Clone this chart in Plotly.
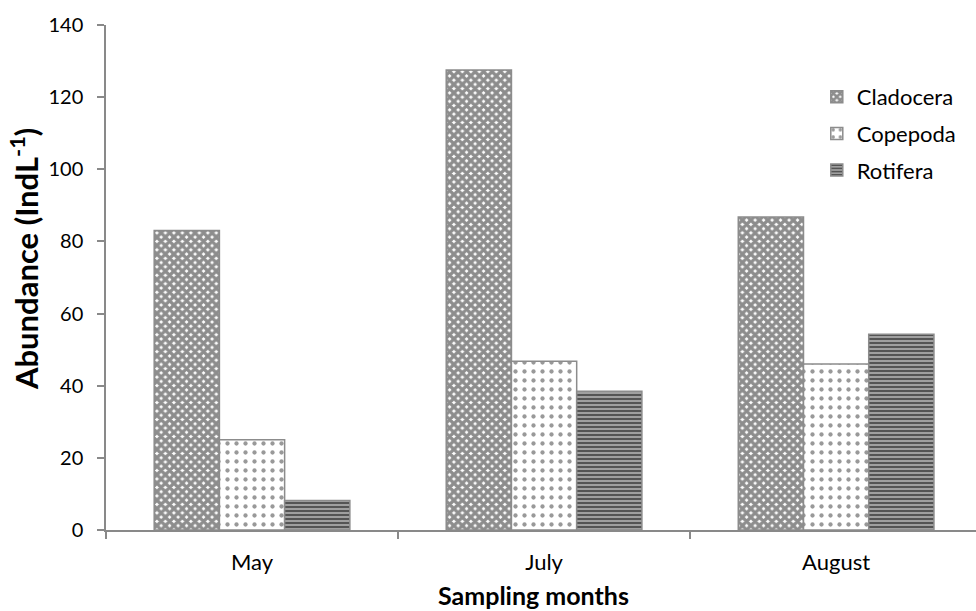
import plotly.graph_objects as go

months = ["May", "July", "August"]
cladocera = [83.0, 127.5, 86.8]
copepoda = [25.0, 46.8, 46.0]
rotifera = [8.2, 38.5, 54.3]

FONT = "Lato, 'Open Sans', sans-serif"
AXIS_GRAY = "#898989"
EDGE = "#8c8c8c"

series = [
    ("Cladocera", cladocera, dict(shape="x", size=6, solidity=0.8, fgcolor="#1c1c1c", bgcolor="white")),
    ("Copepoda", copepoda, dict(shape=".", size=9, solidity=0.18, fgcolor="#333333", bgcolor="white")),
    ("Rotifera", rotifera, dict(shape="-", size=4, solidity=0.55, fgcolor="#000000", bgcolor="#a8a8a8")),
]

fig = go.Figure()
for name, vals, pat in series:
    fig.add_trace(go.Bar(
        x=months, y=vals, name=name, legendgroup=name,
        marker=dict(color="white", pattern=pat, line=dict(color=EDGE, width=1.5)),
    ))

# axis titles drawn as annotations so they can be placed freely
fig.add_annotation(
    text="<b>Abundance (IndL<sup>-1</sup>)</b>",
    xref="paper", yref="paper", x=-0.0935, y=0.536,
    xanchor="center", yanchor="middle", textangle=-90,
    showarrow=False, font=dict(size=31, family=FONT, color="#000000"),
)
fig.add_annotation(
    text="<b>Sampling months</b>",
    xref="paper", yref="paper", x=0.491, y=-0.1287,
    xanchor="center", yanchor="middle",
    showarrow=False, font=dict(size=25, family=FONT, color="#000000"),
)

fig.update_layout(
    width=976, height=611,
    margin=dict(l=106, r=0, t=25, b=81),
    paper_bgcolor="white", plot_bgcolor="white",
    barmode="group", bargap=0.33, bargroupgap=0,
    font=dict(family=FONT, size=18, color="#000000"),
    legend=dict(
        x=0.817, y=0.899, xanchor="left", yanchor="top",
        bgcolor="rgba(0,0,0,0)", font=dict(size=22, family=FONT),
        itemwidth=30, tracegroupgap=5,
    ),
    xaxis=dict(
        range=[-0.5, 2.479], tickson="boundaries",
        showline=True, linecolor=AXIS_GRAY, linewidth=1.5,
        ticks="outside", ticklen=7, tickcolor=AXIS_GRAY, tickwidth=1.5,
        showgrid=False, tickfont=dict(size=22), ticklabelstandoff=12,
    ),
    yaxis=dict(
        range=[0, 140], dtick=20,
        showline=True, linecolor=AXIS_GRAY, linewidth=1.5,
        ticks="outside", ticklen=7, tickcolor=AXIS_GRAY, tickwidth=1.5,
        showgrid=False, zeroline=False, tickfont=dict(size=20), ticklabelstandoff=10,
    ),
)

fig.write_html("out.html")
